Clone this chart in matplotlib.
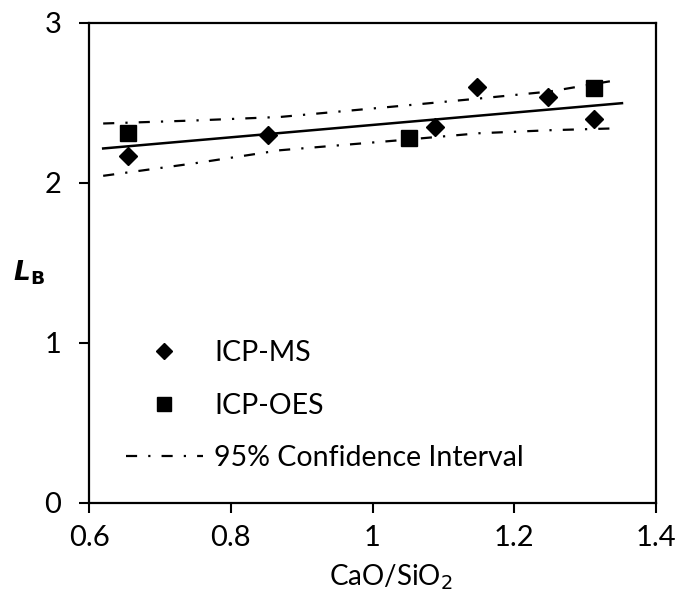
import matplotlib.pyplot as plt
from matplotlib.lines import Line2D

plt.rcParams['font.family'] = ['Lato', 'DejaVu Sans']

# Datos
ms_x = [0.655, 0.853, 1.088, 1.148, 1.247, 1.313]
ms_y = [2.17, 2.30, 2.35, 2.60, 2.535, 2.40]

oes_x = [0.655, 1.052, 1.313]
oes_y = [2.31, 2.28, 2.595]

fit_x = [0.62, 1.352]
fit_y = [2.214, 2.497]

ci_x = [0.62, 0.75, 0.87, 1.04, 1.15, 1.25, 1.338]
ci_upper = [2.37, 2.389, 2.411, 2.48, 2.526, 2.57, 2.636]
ci_lower = [2.043, 2.122, 2.203, 2.266, 2.309, 2.328, 2.339]

xticks = [0.6, 0.8, 1.0, 1.2, 1.4]
xticklabels = ['0.6', '0.8', '1', '1.2', '1.4']
yticks = [0, 1, 2, 3]

ci_style = (0, (5, 5, 1, 5))

fig = plt.figure(figsize=(6.77, 5.98), dpi=100)
ax = fig.add_axes([89 / 677, 1 - 502.7 / 598, (656 - 89) / 677, (502.7 - 22.7) / 598])

# Recta de ajuste e intervalo de confianza
ax.plot(fit_x, fit_y, color='black', linewidth=1.8)
ax.plot(ci_x, ci_upper, color='black', linewidth=1.6, linestyle=ci_style)
ax.plot(ci_x, ci_lower, color='black', linewidth=1.6, linestyle=ci_style)

# Puntos
ax.plot(ms_x, ms_y, 'D', color='black', markersize=9, linestyle='none')
ax.plot(oes_x, oes_y, 's', color='black', markersize=11, linestyle='none')

ax.set_xlim(0.6, 1.4)
ax.set_ylim(0, 3)
ax.set_xticks(xticks)
ax.set_xticklabels(xticklabels)
ax.set_yticks(yticks)

for s in ax.spines.values():
    s.set_linewidth(1.6)
    s.set_color('black')

ax.tick_params(axis='both', direction='out', length=7, width=1.5, labelsize=21)
ax.tick_params(axis='y', pad=13)
ax.tick_params(axis='x', pad=9)

ax.set_xlabel('CaO/SiO$_2$', fontsize=20)
ax.xaxis.set_label_coords(0.533, -0.125)
ax.set_ylabel(r'$\boldsymbol{L}_\mathbf{B}$', fontsize=19, rotation=0)
ax.yaxis.set_label_coords(-0.105, 0.45)

handles = [
    Line2D([], [], marker='D', color='black', linestyle='none', markersize=8),
    Line2D([], [], marker='s', color='black', linestyle='none', markersize=10),
    Line2D([], [], color='black', linewidth=1.6, linestyle=ci_style),
]
labels = ['ICP-MS', 'ICP-OES', '95% Confidence Interval']
ax.legend(handles, labels, loc='lower left', bbox_to_anchor=(0.02, 0.012),
          frameon=False, fontsize=20.5, labelspacing=0.93, handlelength=2.7,
          handletextpad=0.4)

plt.savefig('out.png', dpi=100)
